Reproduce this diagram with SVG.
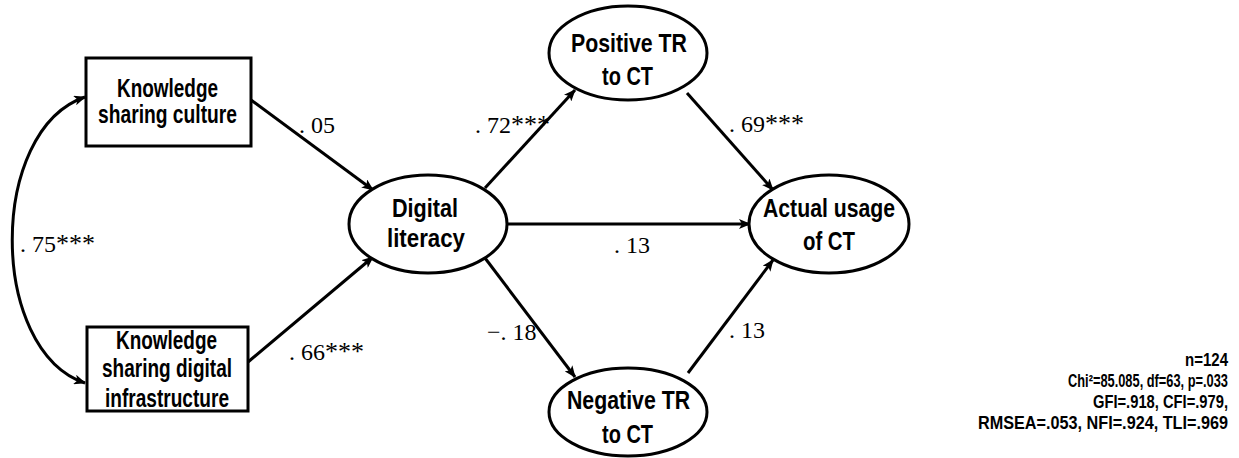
<svg xmlns="http://www.w3.org/2000/svg" width="1239" height="458" viewBox="0 0 1239 458">
  <style>
    .shape { fill: #ffffff; stroke: #000000; stroke-width: 3; }
    .node-text { font-family: "Liberation Sans", Arial, sans-serif; font-weight: bold; font-size: 25px; fill: #000000; }
    .coef { font-family: "Liberation Serif", "Times New Roman", serif; font-size: 24px; fill: #000000; }
    .stars { font-size: 26px; }
    .stats { font-family: "Liberation Sans", Arial, sans-serif; font-weight: bold; font-size: 18px; fill: #000000; text-anchor: end; }
    .path { fill: none; stroke: #000000; stroke-width: 3; }
  </style>
  <defs>
    <marker id="arrow" viewBox="0 0 12 10" refX="11" refY="5" markerWidth="12" markerHeight="10" markerUnits="userSpaceOnUse" orient="auto-start-reverse">
      <path d="M0,0 L12,5 L0,10 L3,5 Z" fill="#000000"/>
    </marker>
  </defs>

  <rect width="1239" height="458" fill="#ffffff"/>

  <!-- connectors -->
  <g id="connectors">
    <path class="path" d="M85,97 C-12,130 -12,350 85,383" marker-start="url(#arrow)" marker-end="url(#arrow)"/>
    <line class="path" x1="251" y1="100" x2="373" y2="190" marker-end="url(#arrow)"/>
    <line class="path" x1="248" y1="362" x2="373" y2="257" marker-end="url(#arrow)"/>
    <line class="path" x1="485" y1="188" x2="575" y2="90" marker-end="url(#arrow)"/>
    <line class="path" x1="507" y1="224" x2="750" y2="224" marker-end="url(#arrow)"/>
    <line class="path" x1="485" y1="258" x2="575" y2="377" marker-end="url(#arrow)"/>
    <line class="path" x1="687" y1="93" x2="773" y2="190" marker-end="url(#arrow)"/>
    <line class="path" x1="688" y1="373" x2="773" y2="260" marker-end="url(#arrow)"/>
  </g>

  <!-- path coefficients -->
  <g id="coefficients">
    <text class="coef" x="299" y="133">. 05</text>
    <text class="coef" x="475" y="133">. 72<tspan class="stars">***</tspan></text>
    <text class="coef" x="729" y="132">. 69<tspan class="stars">***</tspan></text>
    <text class="coef" x="614" y="253">. 13</text>
    <text class="coef" x="729" y="338">. 13</text>
    <text class="coef" x="487" y="340">−. 18</text>
    <text class="coef" x="289" y="360">. 66<tspan class="stars">***</tspan></text>
    <text class="coef" x="20" y="252">. 75<tspan class="stars">***</tspan></text>
  </g>

  <g id="ks-culture">
    <rect class="shape" x="86" y="58" width="165" height="88"/>
    <text class="node-text" x="117" y="97" textLength="101" lengthAdjust="spacingAndGlyphs">Knowledge</text>
    <text class="node-text" x="98" y="123" textLength="139" lengthAdjust="spacingAndGlyphs">sharing culture</text>
  </g>

  <g id="ks-infrastructure">
    <rect class="shape" x="87" y="327" width="161" height="84"/>
    <text class="node-text" x="116" y="349" textLength="101" lengthAdjust="spacingAndGlyphs">Knowledge</text>
    <text class="node-text" x="102" y="377" textLength="130" lengthAdjust="spacingAndGlyphs">sharing digital</text>
    <text class="node-text" x="105" y="407" textLength="124" lengthAdjust="spacingAndGlyphs">infrastructure</text>
  </g>

  <g id="digital-literacy">
    <ellipse class="shape" cx="428" cy="224" rx="79" ry="49"/>
    <text class="node-text" x="392" y="217" textLength="66" lengthAdjust="spacingAndGlyphs">Digital</text>
    <text class="node-text" x="387" y="247" textLength="78" lengthAdjust="spacingAndGlyphs">literacy</text>
  </g>

  <g id="positive-tr">
    <ellipse class="shape" cx="628" cy="53" rx="79" ry="47"/>
    <text class="node-text" x="571" y="52" textLength="116" lengthAdjust="spacingAndGlyphs">Positive TR</text>
    <text class="node-text" x="602" y="85" textLength="51" lengthAdjust="spacingAndGlyphs">to CT</text>
  </g>

  <g id="actual-usage">
    <ellipse class="shape" cx="829" cy="224" rx="80" ry="49"/>
    <text class="node-text" x="763" y="217" textLength="132" lengthAdjust="spacingAndGlyphs">Actual usage</text>
    <text class="node-text" x="803" y="250" textLength="52" lengthAdjust="spacingAndGlyphs">of CT</text>
  </g>

  <g id="negative-tr">
    <ellipse class="shape" cx="628" cy="412" rx="79" ry="44"/>
    <text class="node-text" x="567" y="409" textLength="123" lengthAdjust="spacingAndGlyphs">Negative TR</text>
    <text class="node-text" x="602" y="443" textLength="51" lengthAdjust="spacingAndGlyphs">to CT</text>
  </g>

  <!-- model fit summary, right-aligned -->
  <g id="fit-stats">
    <text class="stats" x="1228" y="366" textLength="43" lengthAdjust="spacingAndGlyphs">n=124</text>
    <text class="stats" x="1228" y="387" textLength="160" lengthAdjust="spacingAndGlyphs">Chi²=85.085, df=63, p=.033</text>
    <text class="stats" x="1228" y="408" textLength="135" lengthAdjust="spacingAndGlyphs">GFI=.918, CFI=.979,</text>
    <text class="stats" x="1228" y="429" textLength="250" lengthAdjust="spacingAndGlyphs">RMSEA=.053, NFI=.924, TLI=.969</text>
  </g>
</svg>
